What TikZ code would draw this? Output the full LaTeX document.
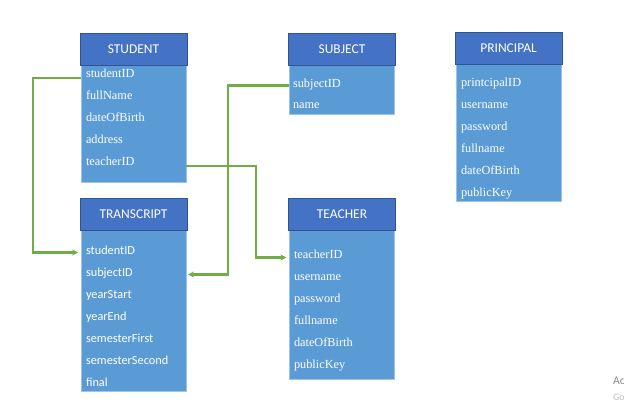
\documentclass[tikz,border=0pt]{standalone}
\usepackage{fontspec}
\setmainfont{Liberation Serif}
\newfontfamily\calibri{Carlito}
\usetikzlibrary{arrows.meta}
\definecolor{headblue}{HTML}{4472C4}
\definecolor{headline}{HTML}{2F5597}
\definecolor{bodyblue}{HTML}{5B9BD5}
\definecolor{linkgreen}{HTML}{70AD47}

\begin{document}
\begin{tikzpicture}[x=0.03cm,y=-0.03cm,thick]
	\tikzstyle{every node} = [inner sep=0,outer sep=0]
	\tikzstyle{head} = [draw=headline,semithick,fill=headblue,text=white,anchor=north west,minimum width=3.21cm,minimum height=0.96cm,font=\calibri\fontsize{11.5}{13}\selectfont]
	\tikzstyle{tbody} = [draw=bodyblue!60!white,semithick,fill=bodyblue,anchor=north west,minimum width=3.15cm]
	\tikzstyle{field} = [anchor=base west,text=white,font=\fontsize{10.5}{12}\selectfont]
	\tikzstyle{sfield} = [field,font=\calibri\fontsize{10.5}{12}\selectfont]
	\tikzstyle{link} = [draw=linkgreen,line width=2pt,-{Stealth[length=5pt,width=5pt]}]
	
	\useasboundingbox (0,0) rectangle (624,403);
	
	% student
	\node[tbody,minimum height=3.51cm] (stuBody) at (81,65) {};
	\node[head] (stuHead) at (80,33) {STUDENT};
	\foreach \n/\t [count=\i] in {stuID/studentID,stuName/fullName,stuBirth/dateOfBirth,stuAddr/address,stuTeach/teacherID}
		\node[field] (\n) at (86,{56+22*\i}) {\t};
	
	% subject
	\node[tbody,minimum height=1.47cm] (subBody) at (289,65) {};
	\node[head] (subHead) at (288.5,33.5) {SUBJECT};
	\node[field] (subID) at (293,88) {subjectID};
	\node[field] (subName) at (293,109) {name};
	
	% principal
	\node[tbody,minimum height=4.11cm] (priBody) at (456,64.5) {};
	\node[head] (priHead) at (455,32.5) {PRINCIPAL};
	\foreach \n/\t [count=\i] in {priID/printcipalID,priUser/username,priPass/password,priName/fullname,priBirth/dateOfBirth,priKey/publicKey}
		\node[field] (\n) at (461,{65+22*\i}) {\t};
	
	% transcript
	\node[tbody,minimum height=4.83cm] (trBody) at (81,230.5) {};
	\node[head] (trHead) at (80,198.5) {TRANSCRIPT};
	\foreach \n/\t [count=\i] in {trStu/studentID,trSub/subjectID,trStart/yearStart,trEnd/yearEnd,trFirst/semesterFirst,trSecond/semesterSecond,trFinal/final}
		\node[sfield] (\n) at (86,{232.5+22*\i}) {\t};
	
	% teacher
	\node[tbody,minimum height=4.5cm] (teaBody) at (289,229.5) {};
	\node[head] (teaHead) at (288.5,198.5) {TEACHER};
	\foreach \n/\t [count=\i] in {teaID/teacherID,teaUser/username,teaPass/password,teaName/fullname,teaBirth/dateOfBirth,teaKey/publicKey}
		\node[field] (\n) at (294,{236.5+22*\i}) {\t};
	
	% links
	\draw[link] (stuBody.west |- stuID.base) -- ++(-48,0) |- ([xshift=-0.09cm,yshift=0.06cm]trBody.west |- trStu.base);
	\draw[link] ([yshift=0.07cm]subBody.west |- subID.base) -- ++(-61,0) |- ([xshift=0.06cm,yshift=0.06cm]trBody.east |- trSub.base);
	\draw[link] (stuBody.east |- stuTeach.base) -- ++(70,0) |- ([xshift=-0.08cm,yshift=0.03cm]teaBody.west |- teaID.base);
	
	\node[anchor=west,text=black!45,font=\calibri\fontsize{10}{12}\selectfont] (actA) at (613,381) {Ac};
	\node[anchor=west,text=black!25,font=\calibri\fontsize{8.5}{10}\selectfont] (actB) at (613,397) {Go};
\end{tikzpicture}
\end{document}
